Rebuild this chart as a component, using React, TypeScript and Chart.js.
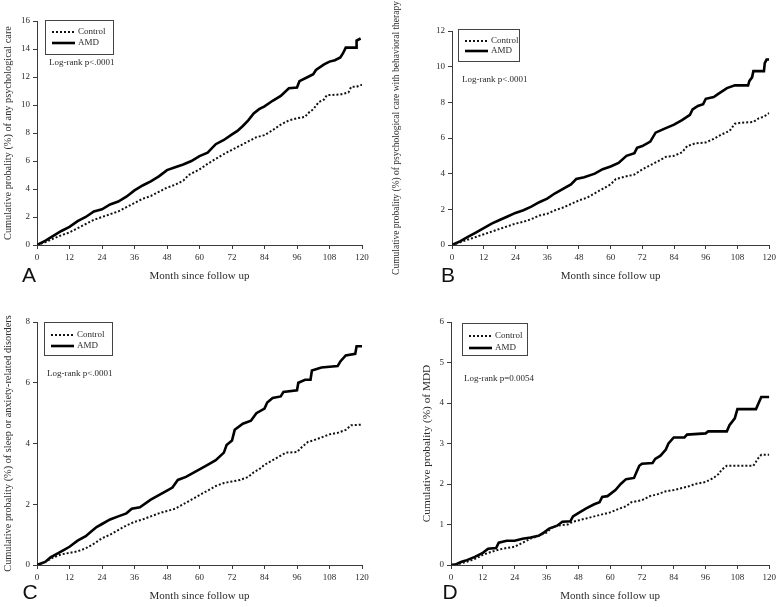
import React, { useEffect, useRef } from "react";
import { Chart, registerables } from "chart.js";

Chart.register(...registerables);

// ---------- text ----------
const seriesNames = ["Control", "AMD"];
const panelLetters = ["A", "B", "C", "D"];
const xAxisTitle = "Month since follow up";
const yAxisTitles = [
  "Cumulative probality (%) of any psychological care",
  "Cumulative probality (%) of psychological care with behavioral therapy",
  "Cumulative probality (%) of sleep or anxiety-related disorders",
  "Cumulative probality (%) of MDD",
];
const logRankTexts = ["Log-rank p<.0001", "Log-rank p<.0001", "Log-rank p<.0001", "Log-rank p=0.0054"];
const yMaxes = [16, 12, 8, 6];
const yStepSizes = [2, 2, 2, 1];
const xMax = 120;
const xStepSize = 12;

// ---------- Panel A ----------
const aControlMonths = [0, 3, 6, 9, 12, 15, 18, 21, 24, 27, 30, 33, 36, 39, 42, 45, 48, 51, 54, 56, 60, 63, 66, 69, 72, 75, 78, 81, 84, 87, 90, 93, 96, 99, 100, 102, 104, 106, 107, 112, 115, 116, 118, 120];
const aControlValues = [0, 0.2, 0.45, 0.7, 0.9, 1.2, 1.5, 1.8, 2.0, 2.2, 2.4, 2.7, 3.0, 3.3, 3.5, 3.8, 4.1, 4.3, 4.6, 5.0, 5.4, 5.8, 6.15, 6.5, 6.8, 7.1, 7.4, 7.7, 7.85, 8.2, 8.6, 8.9, 9.05, 9.15, 9.4, 9.7, 10.2, 10.4, 10.7, 10.75, 10.9, 11.3, 11.3, 11.45];
const aAmdMonths = [0, 3, 6, 9, 12, 15, 18, 21, 24, 27, 30, 33, 36, 39, 42, 45, 48, 51, 54, 57, 60, 63, 66, 69, 72, 74, 76, 78, 80, 82, 84, 87, 90, 93, 96, 96.9, 100, 102, 103, 106, 108, 110, 112, 113, 114, 117.9, 118, 119.5];
const aAmdValues = [0, 0.3, 0.65, 1.0, 1.3, 1.7, 2.0, 2.4, 2.55, 2.9, 3.1, 3.45, 3.9, 4.25, 4.55, 4.9, 5.35, 5.55, 5.75, 6.0, 6.35, 6.6, 7.2, 7.5, 7.9, 8.15, 8.5, 8.9, 9.4, 9.7, 9.9, 10.3, 10.65, 11.2, 11.25, 11.7, 12.0, 12.2, 12.5, 12.9, 13.1, 13.2, 13.4, 13.7, 14.1, 14.1, 14.6, 14.75];

// ---------- Panel B ----------
const bControlMonths = [0, 3, 6, 9, 12, 15, 18, 21, 24, 27, 30, 33, 36, 39, 42, 45, 48, 51, 54, 57, 60, 62, 66, 69, 71, 74, 78, 81, 84, 87, 89, 92, 96, 99, 102, 105, 107, 109, 114, 116, 118, 120];
const bControlValues = [0, 0.15, 0.3, 0.45, 0.6, 0.75, 0.9, 1.05, 1.2, 1.3, 1.45, 1.65, 1.75, 1.95, 2.1, 2.3, 2.5, 2.65, 2.9, 3.15, 3.4, 3.7, 3.85, 3.95, 4.15, 4.4, 4.7, 4.95, 5.0, 5.2, 5.55, 5.7, 5.75, 5.95, 6.2, 6.4, 6.8, 6.85, 6.9, 7.1, 7.2, 7.4];
const bAmdMonths = [0, 3, 6, 9, 12, 15, 18, 21, 24, 27, 30, 33, 36, 39, 42, 45, 47, 50, 54, 57, 60, 63, 66, 69, 70, 72, 75, 77, 80, 84, 87, 90, 91, 93, 95, 96, 99, 101, 104, 107, 112, 112.5, 113.5, 114, 118, 118.3, 119, 120];
const bAmdValues = [0, 0.2, 0.45, 0.7, 0.95, 1.2, 1.4, 1.6, 1.8, 1.95, 2.15, 2.4, 2.6, 2.9, 3.15, 3.4, 3.7, 3.8, 4.0, 4.25, 4.4, 4.6, 5.0, 5.15, 5.45, 5.55, 5.8, 6.3, 6.5, 6.75, 7.0, 7.3, 7.6, 7.8, 7.9, 8.2, 8.3, 8.5, 8.8, 8.95, 8.95, 9.2, 9.4, 9.75, 9.75, 10.2, 10.4, 10.4];

// ---------- Panel C ----------
const cControlMonths = [0, 3, 6, 9, 12, 15, 18, 21, 24, 27, 30, 33, 36, 39, 42, 45, 48, 51, 54, 57, 60, 63, 66, 69, 72, 75, 78, 80, 82, 84, 87, 90, 92, 96, 98, 100, 102, 105, 108, 111, 114, 116, 120];
const cControlValues = [0, 0.1, 0.25, 0.35, 0.4, 0.45, 0.55, 0.7, 0.88, 1.0, 1.15, 1.3, 1.42, 1.5, 1.6, 1.7, 1.78, 1.85, 2.0, 2.15, 2.3, 2.45, 2.6, 2.7, 2.75, 2.8, 2.9, 3.05, 3.15, 3.3, 3.45, 3.6, 3.7, 3.72, 3.9, 4.05, 4.1, 4.2, 4.3, 4.35, 4.45, 4.6, 4.62];
const cAmdMonths = [0, 3, 5, 8, 10, 12, 15, 18, 20, 22, 24, 27, 30, 33, 35, 38, 42, 45, 48, 50, 52, 55, 58, 60, 63, 66, 69, 70, 72, 73, 76, 79, 81, 84, 85, 87, 90, 91, 96, 96.5, 99, 101, 101.5, 105, 111, 112, 114, 117.5, 118, 120];
const cAmdValues = [0, 0.1, 0.25, 0.4, 0.5, 0.6, 0.8, 0.95, 1.1, 1.25, 1.35, 1.5, 1.6, 1.7, 1.85, 1.9, 2.15, 2.3, 2.45, 2.55, 2.8, 2.9, 3.05, 3.15, 3.3, 3.45, 3.7, 3.95, 4.1, 4.45, 4.65, 4.75, 5.0, 5.15, 5.35, 5.5, 5.55, 5.7, 5.75, 6.0, 6.1, 6.1, 6.4, 6.5, 6.55, 6.7, 6.9, 6.95, 7.2, 7.2];

// ---------- Panel D ----------
const dControlMonths = [0, 3, 6, 9, 12, 15, 18, 21, 24, 27, 30, 33, 36, 38, 40, 44, 46, 48, 51, 54, 57, 60, 63, 66, 68, 72, 75, 78, 81, 84, 87, 90, 92, 96, 99, 101, 102, 104, 114, 115, 116, 117, 120];
const dControlValues = [0, 0.03, 0.08, 0.15, 0.25, 0.32, 0.38, 0.42, 0.45, 0.55, 0.65, 0.72, 0.8, 0.92, 0.97, 1.0, 1.07, 1.1, 1.15, 1.2, 1.25, 1.3, 1.38, 1.45, 1.55, 1.6, 1.7, 1.75, 1.82, 1.85, 1.9, 1.95, 2.0, 2.05, 2.15, 2.25, 2.35, 2.45, 2.45, 2.55, 2.65, 2.72, 2.72];
const dAmdMonths = [0, 2, 4, 6, 9, 12, 14, 17, 18, 21, 24, 27, 30, 33, 35, 37, 40, 42, 45, 46, 48, 51, 54, 56, 57, 59, 62, 64, 66, 69, 70, 71, 72, 76, 77, 79, 81, 82, 84, 88, 89, 96, 97, 104, 105, 107, 108, 115, 116, 117, 120];
const dAmdValues = [0, 0.02, 0.08, 0.12, 0.2, 0.3, 0.4, 0.42, 0.55, 0.6, 0.6, 0.65, 0.68, 0.72, 0.8, 0.9, 0.97, 1.07, 1.08, 1.2, 1.28, 1.4, 1.5, 1.55, 1.68, 1.7, 1.85, 2.0, 2.12, 2.15, 2.3, 2.45, 2.5, 2.52, 2.62, 2.7, 2.85, 3.0, 3.15, 3.15, 3.22, 3.25, 3.3, 3.3, 3.45, 3.62, 3.85, 3.85, 4.0, 4.15, 4.15];

const controlSeries = [
  [aControlMonths, aControlValues],
  [bControlMonths, bControlValues],
  [cControlMonths, cControlValues],
  [dControlMonths, dControlValues],
];
const amdSeries = [
  [aAmdMonths, aAmdValues],
  [bAmdMonths, bAmdValues],
  [cAmdMonths, cAmdValues],
  [dAmdMonths, dAmdValues],
];

// ---------- layout / style (not data) ----------
type Layout = {
  left: number; top: number; w: number; h: number;
  L: number; T: number; R: number; B: number;
  yTitleX: number; xTitleY: number; yTitleSize: number;
  legend: { x: number; y: number; w: number; h: number; r1: number; r2: number };
  logrank: { x: number; y: number };
  letter: { x: number; y: number };
};
const layouts: Layout[] = [
  { left: 0, top: 0, w: 390, h: 300, L: 37, T: 21, R: 362, B: 245, yTitleX: 8, xTitleY: 276, yTitleSize: 10.3,
    legend: { x: 45, y: 20, w: 68, h: 34, r1: 12, r2: 23 }, logrank: { x: 49, y: 63 }, letter: { x: 29, y: 276 } },
  { left: 390, top: 0, w: 389, h: 300, L: 62, T: 31, R: 380, B: 245, yTitleX: 6, xTitleY: 276, yTitleSize: 9.5,
    legend: { x: 68, y: 29, w: 61, h: 32, r1: 12, r2: 22 }, logrank: { x: 72, y: 80 }, letter: { x: 58, y: 276 } },
  { left: 0, top: 300, w: 390, h: 307, L: 37, T: 22, R: 362, B: 265, yTitleX: 8, xTitleY: 296, yTitleSize: 10.3,
    legend: { x: 44, y: 22, w: 68, h: 33, r1: 13, r2: 24 }, logrank: { x: 47, y: 74 }, letter: { x: 30, y: 293 } },
  { left: 390, top: 300, w: 389, h: 307, L: 61, T: 22, R: 380, B: 265, yTitleX: 37, xTitleY: 296, yTitleSize: 11.3,
    legend: { x: 72, y: 23, w: 65, h: 32, r1: 13, r2: 25 }, logrank: { x: 74, y: 79 }, letter: { x: 60, y: 293 } },
];

const SERIF = "'Liberation Serif', 'Times New Roman', serif";
const TEXT = "#2b2b2b";
const AXIS = "#3a3a3a";

function Panel({ idx }: { idx: number }) {
  const ref = useRef<HTMLCanvasElement>(null);
  const l = layouts[idx];

  useEffect(() => {
    if (!ref.current) return;
    const xFont = 11;
    const yLH = l.yTitleSize * 1.2;
    const xLH = xFont * 1.2;
    const pad = {
      left: l.yTitleX - yLH / 2,
      top: l.T,
      right: l.w - l.R,
      bottom: l.h - (l.xTitleY + xLH / 2),
    };
    const yWidth = l.L - pad.left;
    const xHeight = l.xTitleY + xLH / 2 - l.B;

    const styles = [
      { borderColor: "#111", borderWidth: 2, borderDash: [2, 2] },
      { borderColor: "#000", borderWidth: 2.6, borderDash: [] as number[] },
    ];
    const seriesData = [controlSeries[idx], amdSeries[idx]];

    const decor = {
      id: "decor",
      afterDraw(chart: any) {
        const ctx = chart.ctx as CanvasRenderingContext2D;
        ctx.save();
        // legend box
        const lg = l.legend;
        ctx.strokeStyle = "#444";
        ctx.lineWidth = 1;
        ctx.setLineDash([]);
        ctx.strokeRect(lg.x + 0.5, lg.y + 0.5, lg.w, lg.h);
        const rows = [lg.r1, lg.r2];
        seriesNames.forEach((name, i) => {
          const yy = lg.y + rows[i];
          ctx.save();
          ctx.strokeStyle = styles[i].borderColor;
          ctx.lineWidth = styles[i].borderWidth;
          ctx.setLineDash(styles[i].borderDash);
          ctx.beginPath();
          ctx.moveTo(lg.x + 7, yy);
          ctx.lineTo(lg.x + 30, yy);
          ctx.stroke();
          ctx.restore();
          ctx.fillStyle = TEXT;
          ctx.font = `9px ${SERIF}`;
          ctx.textAlign = "left";
          ctx.textBaseline = "middle";
          ctx.fillText(name, lg.x + 33, yy);
        });
        // log-rank
        ctx.fillStyle = TEXT;
        ctx.font = `9px ${SERIF}`;
        ctx.textAlign = "left";
        ctx.textBaseline = "middle";
        ctx.fillText(logRankTexts[idx], l.logrank.x, l.logrank.y);
        // panel letter
        ctx.font = `21px 'Liberation Sans', Arial, sans-serif`;
        ctx.textAlign = "center";
        ctx.fillStyle = "#111";
        ctx.fillText(panelLetters[idx], l.letter.x, l.letter.y);
        ctx.restore();
      },
    };

    const chart = new Chart(ref.current, {
      type: "line",
      data: {
        datasets: seriesNames.map((name, i) => ({
          label: name,
          data: seriesData[i][0].map((m, j) => ({ x: m, y: seriesData[i][1][j] })),
          borderColor: styles[i].borderColor,
          borderWidth: styles[i].borderWidth,
          borderDash: styles[i].borderDash,
          borderCapStyle: "butt",
          borderJoinStyle: "miter",
          pointRadius: 0,
          tension: 0,
          fill: false,
        })),
      },
      options: {
        responsive: false,
        maintainAspectRatio: false,
        animation: false,
        devicePixelRatio: 1,
        layout: { padding: pad },
        plugins: { legend: { display: false }, tooltip: { enabled: false }, title: { display: false } },
        scales: {
          x: {
            type: "linear",
            min: 0,
            max: xMax,
            afterFit: (s: any) => { s.height = xHeight; },
            ticks: { stepSize: xStepSize, autoSkip: false, maxRotation: 0, padding: 3, color: TEXT, font: { family: SERIF, size: 9 } },
            grid: { display: true, drawOnChartArea: false, drawTicks: true, tickLength: 4, color: AXIS },
            border: { display: true, color: AXIS, width: 1 },
            title: { display: true, text: xAxisTitle, color: TEXT, padding: 0, font: { family: SERIF, size: xFont } },
          },
          y: {
            type: "linear",
            min: 0,
            max: yMaxes[idx],
            afterFit: (s: any) => { s.width = yWidth; },
            ticks: { stepSize: yStepSizes[idx], padding: 3, color: TEXT, font: { family: SERIF, size: 9 } },
            grid: { display: true, drawOnChartArea: false, drawTicks: true, tickLength: 4, color: AXIS },
            border: { display: true, color: AXIS, width: 1 },
            title: { display: true, text: yAxisTitles[idx], color: TEXT, padding: 0, font: { family: SERIF, size: l.yTitleSize } },
          },
        },
      },
      plugins: [decor],
    } as any);
    return () => chart.destroy();
  }, []);

  return (
    <canvas
      ref={ref}
      width={l.w}
      height={l.h}
      style={{ position: "absolute", left: l.left, top: l.top, width: l.w, height: l.h }}
    />
  );
}

export default function App() {
  return (
    <div style={{ position: "absolute", left: 0, top: 0, width: 779, height: 607, background: "#fff", overflow: "hidden" }}>
      {[0, 1, 2, 3].map((i) => (
        <Panel key={i} idx={i} />
      ))}
    </div>
  );
}
